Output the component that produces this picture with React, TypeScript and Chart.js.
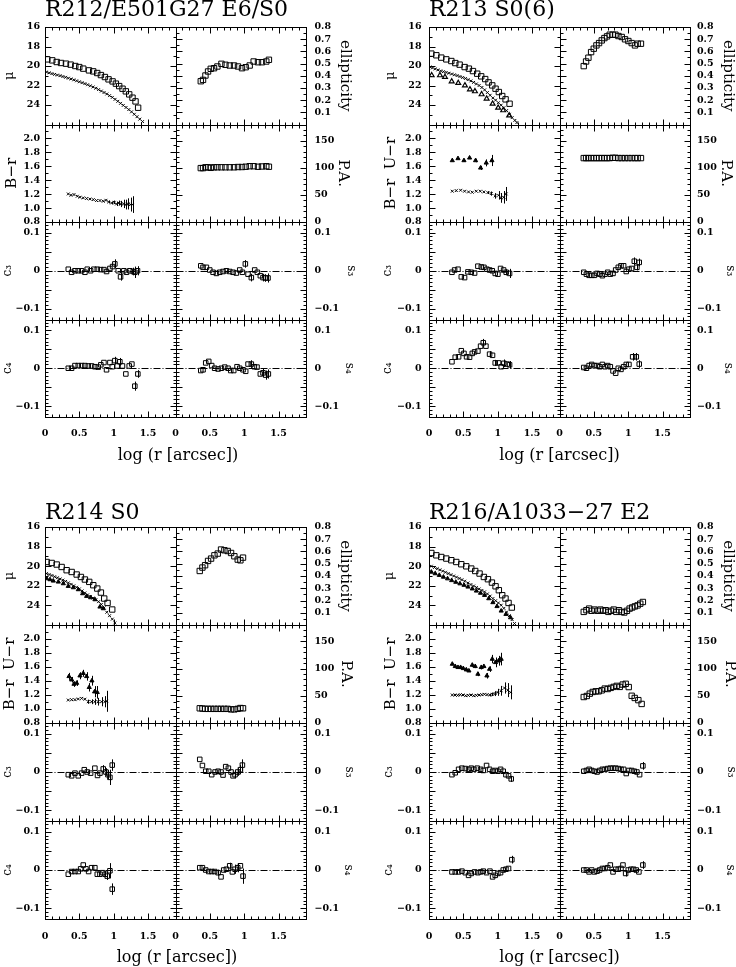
import React, { useEffect, useRef } from "react";
import { Chart, registerables } from "chart.js";
Chart.register(...registerables);

type Pt = number[];
const SERIF = "'DejaVu Serif', serif";
const TICK_FAMILY = "'DejaVu Serif', serif";

// ---------------- tick labels ----------------
const X_TICKS = [0, 0.5, 1, 1.5];
const MU_TICKS = [16, 18, 20, 22, 24];
const ELL_TICKS = [0.1, 0.2, 0.3, 0.4, 0.5, 0.6, 0.7, 0.8];
const COL_TICKS = [0.8, 1.0, 1.2, 1.4, 1.6, 1.8, 2.0];
const PA_TICKS = [0, 50, 100, 150];
const C_TICKS = [-0.1, 0, 0.1];

// ---------------- R212 ----------------
const R212_MU_R: Pt[] = [[0.034,19.32],[0.106,19.42],[0.17,19.59],[0.233,19.69],[0.305,19.76],[0.373,19.86],[0.441,20.0],[0.499,20.11],[0.557,20.27],[0.64,20.45],[0.702,20.55],[0.76,20.72],[0.814,20.93],[0.872,21.13],[0.925,21.37],[0.984,21.58],[1.032,21.81],[1.08,22.06],[1.129,22.33],[1.177,22.6],[1.226,22.91],[1.274,23.25],[1.318,23.63],[1.356,24.28]];
const R212_MU_B: Pt[] = [[0.024,20.62],[0.06,20.7],[0.1,20.78],[0.14,20.86],[0.18,20.93],[0.22,20.99],[0.26,21.08],[0.3,21.16],[0.34,21.25],[0.38,21.33],[0.42,21.42],[0.46,21.52],[0.5,21.62],[0.54,21.71],[0.58,21.81],[0.62,21.92],[0.66,22.03],[0.7,22.15],[0.74,22.28],[0.78,22.42],[0.82,22.57],[0.86,22.72],[0.9,22.87],[0.94,23.04],[0.98,23.22],[1.02,23.42],[1.06,23.62],[1.1,23.83],[1.14,24.04],[1.18,24.25],[1.22,24.47],[1.26,24.7],[1.3,24.95],[1.34,25.2],[1.38,25.45],[1.42,25.7]];
const R212_ELL: Pt[] = [[0.368,0.355],[0.401,0.366],[0.436,0.402],[0.474,0.435],[0.513,0.457],[0.561,0.462],[0.61,0.476],[0.669,0.498],[0.727,0.49],[0.789,0.484],[0.852,0.484],[0.91,0.476],[0.968,0.462],[1.022,0.47],[1.08,0.484],[1.138,0.517],[1.201,0.511],[1.259,0.511],[1.322,0.517],[1.36,0.531]];
const R212_PA: Pt[] = [[0.368,99.5],[0.401,99.5],[0.436,101],[0.474,101],[0.513,100],[0.561,101],[0.61,101],[0.669,101],[0.727,101],[0.789,101],[0.852,101],[0.91,101.5],[0.968,101.5],[1.022,102],[1.08,103],[1.138,103],[1.201,102],[1.259,102.5],[1.322,103],[1.36,102]];
const R212_BR: Pt[] = [[0.339,1.203],[0.378,1.184],[0.422,1.194],[0.47,1.17],[0.509,1.156],[0.557,1.146],[0.606,1.137],[0.654,1.13],[0.703,1.122],[0.751,1.108],[0.8,1.108],[0.848,1.098],[0.887,1.112],[0.926,1.088,0.018],[0.969,1.073,0.02],[1.008,1.083,0.025],[1.042,1.059,0.03],[1.076,1.073,0.035],[1.11,1.059,0.045],[1.144,1.06,0.06],[1.177,1.05,0.07],[1.212,1.06,0.08],[1.245,1.05,0.1],[1.274,1.05,0.12]];
const R212_C3: Pt[] = [[0.339,0.004],[0.387,-0.004],[0.436,0],[0.484,0],[0.533,0],[0.581,-0.004],[0.615,0.004],[0.664,0],[0.712,0.004],[0.761,0.004],[0.809,0.003],[0.858,0.003],[0.896,-0.002],[0.945,0.006],[0.984,0.011],[1.017,0.018,0.012],[1.066,0],[1.1,-0.016,0.01],[1.148,0],[1.187,-0.004],[1.235,0],[1.284,-0.002,0.01],[1.308,-0.004,0.015],[1.347,0,0.012]];
const R212_S3: Pt[] = [[0.368,0.013],[0.401,0.009],[0.45,0.009],[0.499,0.002],[0.547,-0.004],[0.596,-0.007],[0.644,-0.004],[0.692,-0.002],[0.741,0],[0.789,-0.002],[0.838,-0.004],[0.886,-0.006],[0.935,0.002],[0.974,-0.004],[1.017,0.018,0.01],[1.056,-0.009],[1.104,-0.018,0.01],[1.153,0.002],[1.192,-0.004],[1.235,-0.013],[1.274,-0.018,0.01],[1.308,-0.019,0.01],[1.347,-0.019,0.012]];
const R212_C4: Pt[] = [[0.339,0],[0.387,0],[0.436,0.007],[0.484,0.007],[0.533,0.007],[0.581,0.007],[0.63,0.006],[0.678,0.006],[0.726,0.004],[0.775,0.003],[0.813,0.009],[0.858,0.015],[0.896,-0.004],[0.945,0.015],[0.979,0.004],[1.017,0.02,0.01],[1.051,0.006],[1.09,0.017,0.01],[1.128,0.006],[1.177,-0.015],[1.226,0.006],[1.265,0.011],[1.308,-0.047,0.012],[1.352,-0.015,0.01]];
const R212_S4: Pt[] = [[0.368,-0.006],[0.401,-0.004],[0.44,0.014],[0.484,0.018],[0.527,0.007],[0.57,0],[0.62,-0.002],[0.668,0],[0.717,0.003],[0.765,0],[0.804,-0.006],[0.848,-0.006],[0.896,0.004],[0.935,0],[0.983,-0.004],[1.022,-0.008],[1.056,0.011],[1.104,0.011,0.01],[1.148,0.004],[1.187,0.003],[1.235,-0.015],[1.274,-0.012,0.01],[1.313,-0.018,0.012],[1.352,-0.015,0.012]];

// ---------------- R213 ----------------
const R213_MU_R: Pt[] = [[0.034,18.73],[0.107,18.9],[0.179,19.14],[0.252,19.32],[0.325,19.49],[0.383,19.7],[0.446,19.86],[0.519,20.11],[0.581,20.27],[0.64,20.52],[0.702,20.79],[0.76,21.06],[0.818,21.34],[0.867,21.68],[0.921,21.99],[0.969,22.33],[1.017,22.67],[1.066,23.08],[1.115,23.42],[1.173,23.87]];
const R213_MU_B: Pt[] = [[0.015,20.1],[0.05,20.2],[0.09,20.3],[0.13,20.4],[0.17,20.5],[0.21,20.58],[0.25,20.66],[0.29,20.74],[0.33,20.82],[0.37,20.9],[0.41,20.98],[0.45,21.08],[0.49,21.18],[0.53,21.28],[0.57,21.4],[0.61,21.53],[0.65,21.68],[0.69,21.84],[0.73,22.0],[0.77,22.2],[0.81,22.45],[0.85,22.72],[0.89,23.0],[0.93,23.28],[0.97,23.5],[1.01,23.77],[1.05,24.02],[1.09,24.28],[1.13,24.57],[1.17,24.95],[1.21,25.3],[1.25,25.58],[1.28,25.8]];
const R213_MU_U: Pt[] = [[0.039,20.96],[0.16,20.96],[0.233,21.13],[0.33,21.58],[0.426,21.75],[0.523,21.99],[0.596,22.4],[0.669,22.6],[0.766,22.91],[0.839,23.35],[0.926,23.87],[1.007,24.28],[1.08,24.55],[1.167,25.07]];
const R213_ELL: Pt[] = [[0.353,0.479],[0.387,0.517],[0.421,0.548],[0.46,0.594],[0.499,0.622],[0.538,0.649],[0.576,0.668],[0.615,0.69],[0.654,0.709],[0.692,0.723],[0.731,0.737],[0.775,0.737],[0.814,0.737],[0.858,0.726],[0.906,0.718],[0.954,0.699],[1.003,0.685],[1.051,0.668],[1.099,0.649],[1.138,0.663],[1.186,0.663]];
const R213_PA: Pt[] = [[0.353,118],[0.387,118],[0.421,118],[0.46,118],[0.499,118],[0.538,118],[0.576,118],[0.615,118],[0.654,118],[0.692,118],[0.731,118],[0.775,118.5],[0.814,118.5],[0.858,118],[0.906,118],[0.954,118],[1.003,118],[1.051,118],[1.099,118],[1.138,118],[1.186,118]];
const R213_BR: Pt[] = [[0.339,1.242],[0.397,1.251],[0.46,1.256],[0.518,1.242],[0.576,1.232],[0.63,1.227],[0.688,1.242],[0.746,1.242],[0.799,1.232],[0.858,1.222,0.02],[0.906,1.208,0.03],[0.964,1.175,0.04],[1.013,1.184,0.06],[1.051,1.146,0.07],[1.09,1.155,0.09],[1.124,1.203,0.1]];
const R213_UR: Pt[] = [[0.339,1.683],[0.422,1.712],[0.509,1.683,0.02],[0.591,1.721],[0.678,1.683,0.025],[0.751,1.577,0.03],[0.833,1.649,0.05],[0.916,1.683,0.08]];
const R213_C3: Pt[] = [[0.334,-0.004],[0.373,0.002],[0.422,0.004],[0.47,-0.016],[0.518,-0.018],[0.567,-0.003],[0.615,-0.004],[0.664,-0.006],[0.712,0.012],[0.761,0.01],[0.8,0.009],[0.843,0.004],[0.882,0.002],[0.921,0],[0.964,-0.007],[1.003,-0.009],[1.042,0.006],[1.086,0.002],[1.124,-0.004,0.008],[1.173,-0.007,0.012]];
const R213_S3: Pt[] = [[0.353,-0.004],[0.392,-0.009],[0.431,-0.012],[0.469,-0.012],[0.508,-0.012],[0.547,-0.007],[0.585,-0.009],[0.624,-0.013],[0.663,-0.009],[0.702,-0.004],[0.74,-0.009],[0.779,-0.007],[0.818,0.002],[0.856,0.009],[0.895,0.013],[0.934,0.013],[0.972,-0.002],[1.011,0.004],[1.05,0.006],[1.089,0.025,0.01],[1.127,0.009,0.008],[1.161,0.022,0.01]];
const R213_C4: Pt[] = [[0.334,0.017],[0.382,0.029],[0.431,0.03],[0.47,0.046],[0.509,0.039],[0.547,0.03],[0.591,0.029],[0.63,0.039],[0.664,0.043],[0.712,0.045],[0.751,0.058],[0.79,0.067,0.01],[0.829,0.058],[0.882,0.037,0.008],[0.925,0.034],[0.964,0.014,0.008],[1.013,0.014],[1.051,0.004],[1.09,0.013,0.01],[1.139,0.011],[1.173,0.009,0.01]];
const R213_S4: Pt[] = [[0.353,0.002],[0.392,0],[0.431,0.007],[0.469,0.01],[0.508,0.007],[0.547,0.007],[0.585,0.004],[0.624,0.01],[0.663,0.004],[0.702,0.007],[0.74,0.004],[0.779,-0.007],[0.818,-0.013],[0.856,0],[0.895,-0.003],[0.934,0.004],[0.972,0.01],[1.011,0.01],[1.065,0.03,0.01],[1.118,0.03,0.01],[1.161,0.011,0.01]];

// ---------------- R214 ----------------
const R214_MU_R: Pt[] = [[0.024,19.57],[0.097,19.67],[0.17,19.83],[0.242,20.08],[0.315,20.41],[0.388,20.59],[0.461,20.85],[0.523,21.1],[0.581,21.36],[0.644,21.6],[0.703,21.94],[0.761,22.28],[0.814,22.69],[0.862,23.3],[0.911,23.75],[0.979,24.42]];
const R214_MU_B: Pt[] = [[0.024,20.75],[0.06,20.85],[0.1,20.95],[0.14,21.07],[0.18,21.18],[0.22,21.3],[0.26,21.42],[0.3,21.55],[0.34,21.7],[0.38,21.85],[0.42,22.0],[0.46,22.15],[0.5,22.32],[0.54,22.52],[0.58,22.73],[0.62,22.93],[0.66,23.1],[0.7,23.25],[0.74,23.42],[0.78,23.62],[0.82,23.9],[0.86,24.25],[0.9,24.7],[0.94,25.05],[0.98,25.4],[1.017,25.79]];
const R214_MU_U: Pt[] = [[0.024,21.26],[0.073,21.36],[0.121,21.5],[0.194,21.6],[0.267,21.77],[0.339,22.04],[0.412,22.18],[0.485,22.38],[0.548,22.79],[0.606,23.06],[0.664,23.2],[0.727,23.4],[0.8,24.15],[0.848,24.32]];
const R214_ELL: Pt[] = [[0.353,0.441],[0.392,0.469],[0.431,0.488],[0.474,0.523],[0.518,0.542],[0.567,0.569],[0.615,0.583],[0.663,0.616],[0.712,0.61],[0.76,0.604],[0.809,0.588],[0.857,0.561],[0.906,0.534],[0.945,0.528],[0.983,0.55]];
const R214_PA: Pt[] = [[0.353,27],[0.392,26.5],[0.431,26],[0.474,26],[0.518,26],[0.567,26],[0.615,26],[0.663,26],[0.712,26],[0.76,26],[0.809,25],[0.857,25],[0.906,26],[0.945,27.5],[0.983,27]];
const R214_BR: Pt[] = [[0.339,1.128],[0.388,1.133],[0.436,1.133],[0.484,1.143],[0.533,1.152],[0.581,1.14],[0.63,1.104,0.03],[0.678,1.104,0.035],[0.726,1.104,0.045],[0.775,1.104,0.055],[0.823,1.104,0.065],[0.872,1.104,0.08],[0.897,1.11,0.15]];
const R214_UR: Pt[] = [[0.349,1.466,0.05],[0.388,1.418,0.04],[0.422,1.356,0.04],[0.461,1.37,0.04],[0.509,1.475,0.05],[0.557,1.51,0.05],[0.606,1.466,0.06],[0.644,1.31,0.06],[0.683,1.404,0.07],[0.722,1.247,0.08],[0.761,1.238,0.09]];
const R214_C3: Pt[] = [[0.339,-0.007],[0.388,-0.01],[0.436,-0.003],[0.484,-0.01],[0.533,-0.003],[0.572,0.006],[0.615,0],[0.664,-0.003],[0.726,0.01],[0.765,-0.009],[0.8,-0.003],[0.848,0.008,0.01],[0.887,0,0.01],[0.916,-0.007,0.012],[0.945,-0.014,0.02],[0.979,0.018,0.015]];
const R214_S3: Pt[] = [[0.353,0.033],[0.392,0.017],[0.44,0.002],[0.484,0.002],[0.527,-0.007],[0.576,0],[0.62,0.002],[0.663,0],[0.692,-0.008],[0.731,0.014],[0.77,0.01],[0.809,0],[0.838,-0.01],[0.867,-0.007,0.01],[0.906,0,0.01],[0.945,0.006,0.012],[0.974,0.018,0.015]];
const R214_C4: Pt[] = [[0.339,-0.011],[0.388,-0.004],[0.436,-0.004],[0.484,-0.004],[0.519,0.003],[0.557,0.013],[0.596,0.003],[0.635,-0.004],[0.678,0.006],[0.726,0.006],[0.761,-0.011],[0.8,-0.011],[0.838,-0.007],[0.877,-0.011,0.008],[0.906,-0.016,0.01],[0.945,-0.002,0.02],[0.979,-0.05,0.015]];
const R214_S4: Pt[] = [[0.353,0.006],[0.392,0.006],[0.44,0],[0.484,-0.004],[0.527,-0.004],[0.57,-0.004],[0.62,-0.007,0.008],[0.663,-0.018],[0.702,0],[0.741,0.002],[0.789,0.011,0.008],[0.828,-0.005],[0.867,0.002,0.012],[0.906,0.006,0.012],[0.945,0.011],[0.983,-0.016,0.02]];

// ---------------- R216 ----------------
const R216_MU_R: Pt[] = [[0.034,18.65],[0.107,18.89],[0.179,19.06],[0.252,19.22],[0.325,19.39],[0.397,19.57],[0.47,19.8],[0.543,20.01],[0.615,20.24],[0.673,20.49],[0.736,20.75],[0.799,21.1],[0.858,21.33],[0.916,21.67],[0.969,22.05],[1.017,22.45],[1.066,22.96],[1.114,23.3],[1.158,23.75],[1.206,24.22]];
const R216_MU_B: Pt[] = [[0.034,20.0],[0.08,20.13],[0.12,20.25],[0.16,20.37],[0.2,20.5],[0.24,20.62],[0.28,20.75],[0.32,20.87],[0.36,21.0],[0.4,21.12],[0.44,21.25],[0.48,21.38],[0.52,21.53],[0.567,21.71],[0.61,21.87],[0.65,22.02],[0.69,22.17],[0.73,22.32],[0.77,22.47],[0.809,22.62],[0.85,22.83],[0.89,23.05],[0.93,23.3],[0.97,23.52],[1.01,23.75],[1.051,23.98],[1.09,24.3],[1.13,24.68],[1.17,25.05],[1.21,25.45],[1.245,25.85]];
const R216_MU_U: Pt[] = [[0.034,20.59],[0.09,20.75],[0.15,20.92],[0.21,21.1],[0.27,21.27],[0.33,21.45],[0.39,21.62],[0.45,21.78],[0.51,21.93],[0.567,22.11],[0.63,22.3],[0.69,22.52],[0.75,22.74],[0.809,22.96],[0.87,23.3],[0.93,23.7],[0.99,24.1],[1.051,24.56],[1.12,24.9],[1.187,25.24]];
const R216_ELL: Pt[] = [[0.353,0.107],[0.392,0.121],[0.431,0.134],[0.469,0.116],[0.508,0.126],[0.557,0.116],[0.595,0.126],[0.634,0.116],[0.672,0.121],[0.711,0.107],[0.75,0.116],[0.789,0.126],[0.827,0.107],[0.866,0.121],[0.905,0.107],[0.943,0.102],[0.982,0.116],[1.021,0.134],[1.059,0.143],[1.098,0.152],[1.137,0.16],[1.176,0.174],[1.214,0.188]];
const R216_PA: Pt[] = [[0.353,47.7],[0.397,49.6],[0.441,53.9],[0.484,57],[0.528,58.2],[0.571,58.2],[0.615,60],[0.659,63.2],[0.702,62.4],[0.746,64.5],[0.789,66.3],[0.833,68.2],[0.877,66.3],[0.92,70.6],[0.964,72],[1.008,66],[1.051,50],[1.095,46],[1.148,42],[1.196,35]];
const R216_BR: Pt[] = [[0.339,1.2],[0.378,1.2],[0.417,1.195],[0.456,1.205],[0.495,1.2],[0.534,1.19],[0.573,1.195],[0.612,1.2],[0.651,1.19],[0.69,1.195],[0.729,1.2],[0.768,1.205],[0.807,1.21],[0.846,1.205],[0.885,1.2,0.02],[0.924,1.21,0.025],[0.963,1.22,0.035],[1.003,1.238,0.05],[1.051,1.26,0.07],[1.1,1.3,0.08],[1.148,1.27,0.1],[1.187,1.238,0.1]];
const R216_UR: Pt[] = [[0.339,1.642],[0.382,1.609],[0.422,1.595],[0.46,1.595],[0.499,1.58],[0.543,1.561],[0.581,1.546],[0.63,1.628,0.025],[0.673,1.609,0.025],[0.712,1.499,0.03],[0.76,1.595,0.03],[0.799,1.609],[0.843,1.475,0.04],[0.882,1.57,0.04],[0.921,1.713,0.06],[0.969,1.666,0.07],[1.013,1.689,0.07],[1.051,1.713,0.09]];
const R216_C3: Pt[] = [[0.334,-0.007],[0.382,-0.002],[0.431,0.007],[0.479,0.01],[0.528,0.009],[0.576,0.007],[0.615,0.01],[0.654,0.007],[0.702,0.01],[0.751,0.007],[0.79,0.004],[0.838,0.017],[0.882,0.007],[0.926,0.002],[0.964,0.004],[1.003,0.002],[1.042,0.007],[1.081,0.002],[1.12,-0.007],[1.158,-0.01],[1.197,-0.018,0.008]];
const R216_S3: Pt[] = [[0.353,0.002],[0.392,0.004],[0.431,0.007],[0.469,0.004],[0.508,0.002],[0.547,0],[0.585,0.004],[0.624,0.007],[0.663,0.007],[0.702,0.009],[0.74,0.01],[0.779,0.01],[0.818,0.01],[0.856,0.009],[0.895,0.007],[0.934,0.007],[0.972,-0.004],[1.011,0.004],[1.05,0.004],[1.089,0.002],[1.127,0],[1.166,-0.007],[1.214,0.016,0.01]];
const R216_C4: Pt[] = [[0.334,-0.005],[0.382,-0.005],[0.431,-0.005],[0.479,-0.003],[0.528,-0.007],[0.576,-0.014],[0.615,-0.009],[0.664,-0.005],[0.712,-0.007],[0.751,-0.005],[0.79,-0.003],[0.838,-0.007],[0.887,-0.003],[0.926,-0.018],[0.964,-0.014],[1.003,-0.009],[1.042,-0.007],[1.081,0],[1.12,0.002],[1.158,0.004],[1.206,0.027,0.01]];
const R216_S4: Pt[] = [[0.353,0],[0.392,0],[0.431,-0.005],[0.469,0],[0.508,-0.005],[0.547,-0.003],[0.585,0],[0.624,0.004],[0.663,0.004],[0.702,0.006],[0.74,0.013],[0.779,-0.005],[0.818,0.002],[0.856,0.002],[0.895,0.004],[0.924,0.013],[0.963,-0.009,0.008],[1.001,0],[1.04,0.002],[1.079,0.002],[1.117,0],[1.156,-0.005],[1.214,0.013,0.01]];

// ---------------- layout / groups ----------------
type Series = [Pt[], string];
type Group = {
  heading: string; left: number; top: number; width: number; height: number; rm: number;
  headingY: number; colTitle: string; xPad: number; xTitleDy: number; xTitleDx: number;
  lPad: number; rPad: number; lTitle: number[]; rTitle: number[];
  mu: Series[]; ell: Pt[]; pa: Pt[]; col: Series[]; c3: Pt[]; s3: Pt[]; c4: Pt[]; s4: Pt[];
};

const GROUPS: Group[] = [
  { heading: "R212/E501G27 E6/S0", left: 0, top: 0, width: 358, height: 465, rm: 52, headingY: 10,
    colTitle: "B−r", xPad: 10.5, xTitleDy: 38.5, xTitleDx: 2.5, lPad: 5, rPad: 8.5,
    lTitle: [10, 11.7, 8.3, 8.3], rTitle: [13.4, 15.4, 6.7, 8.4],
    mu: [[R212_MU_B, "x"], [R212_MU_R, "sq"]], ell: R212_ELL, pa: R212_PA, col: [[R212_BR, "x"]],
    c3: R212_C3, s3: R212_S3, c4: R212_C4, s4: R212_S4 },
  { heading: "R213 S0(6)", left: 384, top: 0, width: 352, height: 465, rm: 46, headingY: 10,
    colTitle: "B−r  U−r", xPad: 10.5, xTitleDy: 38.5, xTitleDx: 0, lPad: 7.5, rPad: 7,
    lTitle: [6.7, 7.3, 4.3, 4.3], rTitle: [8, 9.7, 6.3, 8],
    mu: [[R213_MU_B, "x"], [R213_MU_U, "trio"], [R213_MU_R, "sq"]], ell: R213_ELL, pa: R213_PA,
    col: [[R213_BR, "x"], [R213_UR, "tri"]], c3: R213_C3, s3: R213_S3, c4: R213_C4, s4: R213_S4 },
  { heading: "R214 S0", left: 0, top: 500, width: 358, height: 467, rm: 52, headingY: 13,
    colTitle: "B−r  U−r", xPad: 12, xTitleDy: 39, xTitleDx: 1.5, lPad: 5, rPad: 8.5,
    lTitle: [10, 10, 8.3, 8.3], rTitle: [13.4, 11.7, 8.4, 10],
    mu: [[R214_MU_B, "x"], [R214_MU_U, "tri"], [R214_MU_R, "sq"]], ell: R214_ELL, pa: R214_PA,
    col: [[R214_BR, "x"], [R214_UR, "tri"]], c3: R214_C3, s3: R214_S3, c4: R214_C4, s4: R214_S4 },
  { heading: "R216/A1033−27 E2", left: 384, top: 500, width: 352, height: 467, rm: 46, headingY: 13,
    colTitle: "B−r  U−r", xPad: 12, xTitleDy: 39, xTitleDx: 0, lPad: 7.5, rPad: 7,
    lTitle: [5.7, 6.7, 4.7, 4.7], rTitle: [8, 6.3, 4.7, 6.3],
    mu: [[R216_MU_B, "x"], [R216_MU_U, "tri"], [R216_MU_R, "sq"]], ell: R216_ELL, pa: R216_PA,
    col: [[R216_BR, "x"], [R216_UR, "tri"]], c3: R216_C3, s3: R216_S3, c4: R216_C4, s4: R216_S4 },
];

type RowCfg = { title: string; min: number; max: number; reverse?: boolean; ticks: number[];
  fmt: (v: number) => string; major: number; minor: number; zero?: boolean; tsize: number };

const fmtC = (v: number) => (v === 0 ? "0" : (v < 0 ? "−" : "") + Math.abs(v).toFixed(1));

function rowsFor(g: Group): { L: RowCfg[]; R: RowCfg[] } {
  const C = { min: -0.128, max: 0.128, ticks: C_TICKS, fmt: fmtC, major: 0.05, minor: 0.01, zero: true, tsize: 12 };
  return {
    L: [
      { title: "μ", min: 16, max: 26, reverse: true, ticks: MU_TICKS, fmt: (v) => String(v), major: 2, minor: 1, tsize: 13 },
      { title: g.colTitle, min: 0.8, max: 2.2, ticks: COL_TICKS, fmt: (v) => v.toFixed(1), major: 0.2, minor: 0.1, tsize: 15 },
      { title: "c₃", ...C },
      { title: "c₄", ...C },
    ],
    R: [
      { title: "ellipticity", min: 0, max: 0.8, ticks: ELL_TICKS, fmt: (v) => v.toFixed(1), major: 0.1, minor: 0.05, tsize: 15 },
      { title: "P.A.", min: 0, max: 180, ticks: PA_TICKS, fmt: (v) => String(v), major: 50, minor: 10, tsize: 15 },
      { title: "s₃", ...C },
      { title: "s₄", ...C },
    ],
  };
}

const snap = (v: number) => Math.round(v) + 0.5;

function tickValues(min: number, max: number, major: number, minor: number): [number, boolean][] {
  const out: [number, boolean][] = [];
  const lo = Math.min(min, max), hi = Math.max(min, max);
  const n0 = Math.ceil(lo / minor - 1e-6), n1 = Math.floor(hi / minor + 1e-6);
  for (let n = n0; n <= n1; n++) {
    const v = n * minor;
    const q = v / major;
    out.push([v, Math.abs(q - Math.round(q)) < 1e-6]);
  }
  return out;
}

function makePlugin(g: Group, rows: { L: RowCfg[]; R: RowCfg[] }) {
  return {
    id: "panelFrames",
    afterDatasetsDraw(chart: any) {
      const ctx = chart.ctx as CanvasRenderingContext2D;
      ctx.save();
      ctx.strokeStyle = "#000";
      ctx.lineWidth = 1;
      ctx.setLineDash([]);
      ctx.beginPath();
      chart.data.datasets.forEach((ds: any, i: number) => {
        const meta = chart.getDatasetMeta(i);
        const ys = chart.scales[ds.yAxisID];
        ds.data.forEach((d: any, j: number) => {
          if (!d.e) return;
          const el = meta.data[j];
          const x = snap(el.x);
          ctx.moveTo(x, ys.getPixelForValue(d.y + d.e));
          ctx.lineTo(x, ys.getPixelForValue(d.y - d.e));
        });
      });
      ctx.stroke();
      ctx.restore();
    },
    afterDraw(chart: any) {
      const ctx = chart.ctx as CanvasRenderingContext2D;
      ctx.save();
      ctx.strokeStyle = "#000";
      ctx.lineWidth = 1;
      ["L", "R"].forEach((side) => {
        const xs = chart.scales["x" + side];
        const L = snap(xs.left), R = snap(xs.right);
        const xt = tickValues(0, 1.9, 0.5, 0.1);
        for (let r = 0; r < 4; r++) {
          const ys = chart.scales["y" + side + r];
          const cfg = (rows as any)[side][r] as RowCfg;
          const T = snap(ys.top), B = snap(ys.bottom);
          ctx.setLineDash([]);
          ctx.strokeRect(L, T, R - L, B - T);
          ctx.beginPath();
          for (const [v, maj] of xt) {
            const len = maj ? 6 : 3;
            const x = snap(xs.getPixelForValue(v));
            ctx.moveTo(x, B); ctx.lineTo(x, B - len);
            ctx.moveTo(x, T); ctx.lineTo(x, T + len);
          }
          for (const [v, maj] of tickValues(cfg.min, cfg.max, cfg.major, cfg.minor)) {
            const len = maj ? 6 : 3;
            const y = snap(ys.getPixelForValue(v));
            ctx.moveTo(L, y); ctx.lineTo(L + len, y);
            ctx.moveTo(R, y); ctx.lineTo(R - len, y);
          }
          ctx.stroke();
          if (cfg.zero) {
            const y0 = snap(ys.getPixelForValue(0));
            ctx.beginPath();
            ctx.setLineDash([7, 2, 1, 2]);
            ctx.moveTo(L, y0); ctx.lineTo(R, y0);
            ctx.stroke();
            ctx.setLineDash([]);
          }
        }
      });
      const xl = chart.scales.xL, xr = chart.scales.xR;
      ctx.fillStyle = "#000";
      ctx.textBaseline = "middle";
      ctx.textAlign = "left";
      ctx.font = `22px ${SERIF}`;
      ctx.fillText(g.heading, xl.left, g.headingY);
      ctx.textAlign = "center";
      ctx.font = `16px ${SERIF}`;
      ctx.fillText("log (r [arcsec])", (xl.left + xr.right) / 2 + g.xTitleDx, chart.chartArea.bottom + g.xTitleDy);
      ctx.restore();
    },
  };
}

function mk(points: Pt[], side: string, row: number, kind: string) {
  const base: any = {
    data: points.map((p) => ({ x: p[0], y: p[1], e: p[2] || 0 })),
    xAxisID: "x" + side,
    yAxisID: "y" + side + row,
    showLine: false,
    borderColor: "#000",
    borderWidth: 1,
    pointBorderWidth: 1,
  };
  if (kind === "sq") return { ...base, pointStyle: "rect", pointRadius: 3.8, backgroundColor: "rgba(0,0,0,0)" };
  if (kind === "sqs") return { ...base, pointStyle: "rect", pointRadius: 3.2, backgroundColor: "rgba(0,0,0,0)" };
  if (kind === "tri") return { ...base, pointStyle: "triangle", pointRadius: 2.4, backgroundColor: "#000" };
  if (kind === "trio") return { ...base, pointStyle: "triangle", pointRadius: 2.8, backgroundColor: "rgba(0,0,0,0)", pointBorderWidth: 1.2 };
  return { ...base, pointStyle: "crossRot", pointRadius: 2, backgroundColor: "#000" };
}

function buildConfig(g: Group): any {
  const rows = rowsFor(g);
  const tickFont = { family: TICK_FAMILY, size: 9.5, weight: "bold", lineHeight: 1.2 };
  const scales: any = {};
  ["L", "R"].forEach((side, ci) => {
    scales["x" + side] = {
      type: "linear", axis: "x", position: "bottom", stack: "xs", stackWeight: 1, weight: ci + 1,
      min: 0, max: 1.9, bounds: "data",
      grid: { display: false, drawTicks: false }, border: { display: false },
      afterBuildTicks: (s: any) => { s.ticks = X_TICKS.map((v) => ({ value: v })); },
      afterFit: (s: any) => { s.height = 48; },
      ticks: { autoSkip: false, maxRotation: 0, minRotation: 0, padding: g.xPad, font: tickFont, color: "#000",
        callback: (v: any) => String(v) },
    };
    (rows as any)[side].forEach((r: RowCfg, i: number) => {
      const off = side === "L" ? g.lTitle[i] : g.rTitle[i];
      scales["y" + side + i] = {
        type: "linear", axis: "y", position: side === "L" ? "left" : "right",
        stack: "ys" + side, stackWeight: 1, weight: side === "L" ? 4 - i : i + 1,
        min: r.min, max: r.max, reverse: !!r.reverse, bounds: "data",
        grid: { display: false, drawTicks: false }, border: { display: false },
        afterBuildTicks: (s: any) => { s.ticks = r.ticks.map((v) => ({ value: v })); },
        afterFit: (s: any) => { s.width = side === "L" ? 45 : g.rm; },
        ticks: { autoSkip: false, padding: side === "L" ? g.lPad : g.rPad, font: tickFont, color: "#000",
          callback: (v: any) => r.fmt(Number(v)) },
        title: { display: true, text: r.title, color: "#000",
          font: { family: SERIF, size: r.tsize, lineHeight: 1 },
          padding: { top: off - r.tsize / 2, bottom: 0 } },
      };
    });
  });

  const datasets: any[] = [];
  g.mu.forEach(([pts, k]) => datasets.push(mk(pts, "L", 0, k)));
  g.col.forEach(([pts, k]) => datasets.push(mk(pts, "L", 1, k)));
  datasets.push(mk(g.c3, "L", 2, "sqs"));
  datasets.push(mk(g.c4, "L", 3, "sqs"));
  datasets.push(mk(g.ell, "R", 0, "sq"));
  datasets.push(mk(g.pa, "R", 1, "sq"));
  datasets.push(mk(g.s3, "R", 2, "sqs"));
  datasets.push(mk(g.s4, "R", 3, "sqs"));

  return {
    type: "scatter",
    data: { datasets },
    options: {
      responsive: false,
      maintainAspectRatio: false,
      devicePixelRatio: 1,
      animation: false,
      events: [],
      layout: { padding: { top: 27, left: 0, right: 0, bottom: 0 } },
      plugins: { legend: { display: false }, tooltip: { enabled: false }, title: { display: false } },
      scales,
    },
    plugins: [makePlugin(g, rows)],
  };
}

function GroupChart({ g }: { g: Group }) {
  const ref = useRef<HTMLCanvasElement>(null);
  useEffect(() => {
    if (!ref.current) return;
    const chart = new Chart(ref.current, buildConfig(g));
    return () => chart.destroy();
  }, [g]);
  return (
    <canvas
      ref={ref}
      width={g.width}
      height={g.height}
      style={{ position: "absolute", left: g.left, top: g.top, width: g.width, height: g.height }}
    />
  );
}

export default function App() {
  return (
    <div style={{ position: "absolute", left: 0, top: 0, width: 736, height: 967, background: "#fff", overflow: "hidden" }}>
      {GROUPS.map((g) => (
        <GroupChart key={g.heading} g={g} />
      ))}
    </div>
  );
}
